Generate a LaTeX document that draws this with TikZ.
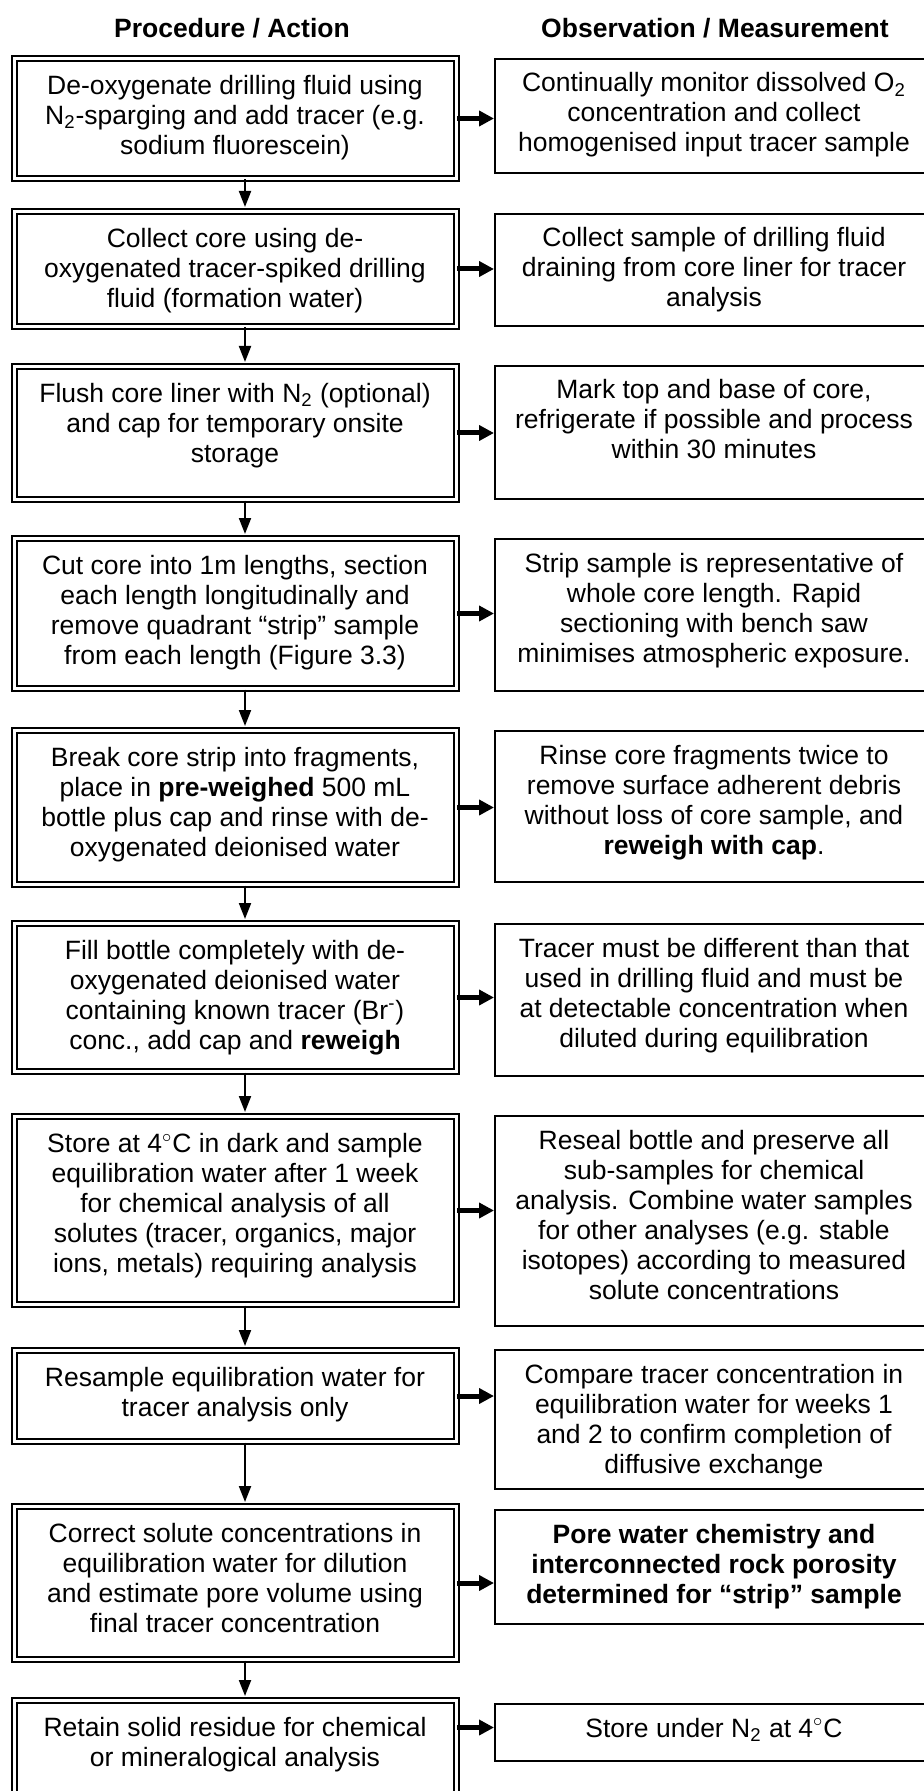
\documentclass[tikz,border=0pt]{standalone}
\usepackage{fontspec}
\setmainfont{Liberation Sans}
\usetikzlibrary{arrows.meta}

\newcommand{\stepbody}[2]{\parbox[c][#1][t]{215pt}{\centering\rule{0pt}{10pt}#2}}

\tikzset{
  every node/.style={font=\fontsize{13.25pt}{15pt}\selectfont},
  heading/.style={font=\fontsize{13.25pt}{15pt}\selectfont\bfseries},
  action/.style={draw, line width=1pt, double, double distance=1.5pt,
    minimum width=221pt, inner xsep=0pt, inner ysep=8pt},
  observation/.style={draw, line width=1pt, minimum width=219pt,
    inner xsep=0pt, inner ysep=6.5pt},
  flow/.style={line width=1pt, -{Triangle[length=8pt,width=6pt]}, shorten >=1.75pt},
  link/.style={line width=2.5pt, -{Triangle[length=7.5pt,width=7.5pt]}}
}

\begin{document}
\begin{tikzpicture}[x=0.5pt,y=-0.5pt]
    \useasboundingbox (0,0) rectangle (924,1791);
    % column headings
    \node[heading] (hleft) at (232,28) {Procedure / Action};
    \node[heading] (hright) at (715,28) {Observation / Measurement};
    % procedure steps
    \node[action] (L1) at (235,118.5) {\stepbody{44pt}{De-oxygenate drilling fluid using\\
        N\textsubscript{2}-sparging and add tracer (e.g.\\ sodium fluorescein)}};
    \node[action] (L2) at (235,269) {\stepbody{41.5pt}{Collect core using de-\\
        oxygenated tracer-spiked drilling\\ fluid (formation water)}};
    \node[action] (L3) at (235,433) {\stepbody{50.5pt}{Flush core liner with N\textsubscript{2} (optional)\\
        and cap for temporary onsite\\ storage}};
    \node[action] (L4) at (235,613.5) {\stepbody{59pt}{Cut core into 1m lengths, section\\
        each length longitudinally and\\ remove quadrant “strip” sample\\ from each length (Figure 3.3)}};
    \node[action] (L5) at (235,807.5) {\stepbody{61pt}{Break core strip into fragments,\\
        place in \textbf{pre-weighed} 500 mL\\ bottle plus cap and rinse with de-\\ oxygenated deionised water}};
    \node[action] (L6) at (235,997.5) {\stepbody{58pt}{Fill bottle completely with de-\\
        oxygenated deionised water\\ containing known tracer (Br\textsuperscript{-})\\ conc., add cap and \textbf{reweigh}}};
    \node[action] (L7) at (235,1210.5) {\stepbody{78pt}{Store at 4$^{\circ}$C in dark and sample\\
        equilibration water after 1 week\\ for chemical analysis of all\\ solutes (tracer, organics, major\\
        ions, metals) requiring analysis}};
    \node[action] (L8) at (235,1396) {\stepbody{29.5pt}{Resample equilibration water for\\ tracer analysis only}};
    \node[action] (L9) at (235,1583) {\stepbody{60.5pt}{Correct solute concentrations in\\
        equilibration water for dilution\\ and estimate pore volume using\\ final tracer concentration}};
    \node[action] (L10) at (235,1763.5) {\stepbody{47pt}{Retain solid residue for chemical\\ or mineralogical analysis}};
    % observations
    \node[observation] (R1) at (714,116) {\stepbody{44pt}{Continually monitor dissolved O\textsubscript{2}\\
        concentration and collect\\ homogenised input tracer sample}};
    \node[observation] (R2) at (714,270) {\stepbody{43pt}{Collect sample of drilling fluid\\
        draining from core liner for tracer\\ analysis}};
    \node[observation] (R3) at (714,432.5) {\stepbody{53.5pt}{Mark top and base of core,\\
        refrigerate if possible and process\\ within 30 minutes}};
    \node[observation] (R4) at (714,615) {\stepbody{63pt}{Strip sample is representative of\\
        whole core length. Rapid\\ sectioning with bench saw\\ minimises atmospheric exposure.}};
    \node[observation] (R5) at (714,806.5) {\stepbody{62.5pt}{Rinse core fragments twice to\\
        remove surface adherent debris\\ without loss of core sample, and\\ \textbf{reweigh with cap}.}};
    \node[observation] (R6) at (714,1000) {\stepbody{63pt}{Tracer must be different than that\\
        used in drilling fluid and must be\\ at detectable concentration when\\ diluted during equilibration}};
    \node[observation] (R7) at (714,1221) {\stepbody{92pt}{Reseal bottle and preserve all\\
        sub-samples for chemical\\ analysis. Combine water samples\\ for other analyses (e.g. stable\\
        isotopes) according to measured\\ solute concentrations}};
    \node[observation] (R8) at (714,1419.5) {\stepbody{56.5pt}{Compare tracer concentration in\\
        equilibration water for weeks 1\\ and 2 to confirm completion of\\ diffusive exchange}};
    \node[observation] (R9) at (714,1567) {\stepbody{44pt}{\bfseries Pore water chemistry and\\
        interconnected rock porosity\\ determined for “strip” sample}};
    \node[observation] (R10) at (714,1732.5) {\stepbody{15.5pt}{Store under N\textsubscript{2} at 4$^{\circ}$C}};
    % connectors
    \foreach \i [remember=\i as \prev (initially 1)] in {2,...,10}
        \draw[flow] ([xshift=5pt]L\prev.south) -- ([xshift=5pt]L\i.north);
    \foreach \i in {1,...,9}
        \draw[link] (L\i.east) -- (L\i.east -| R\i.west);
    \draw[link] ([yshift=2.5pt]L10.east |- R10.west) -- ([yshift=2.5pt]R10.west);
\end{tikzpicture}
\end{document}
